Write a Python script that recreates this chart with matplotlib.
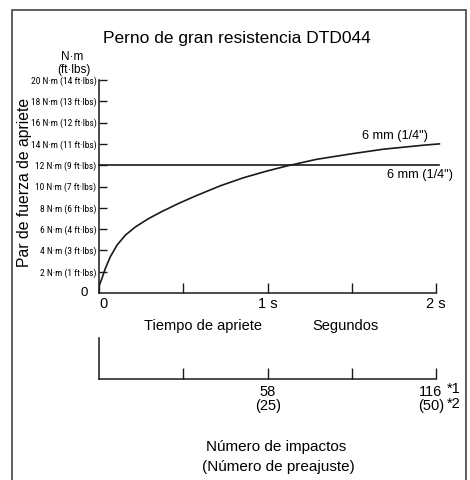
import matplotlib
matplotlib.use("Agg")
import matplotlib.pyplot as plt
from matplotlib.patches import Rectangle
from matplotlib.transforms import ScaledTranslation
import warnings
warnings.filterwarnings("ignore")

# ---- data ----
title = "Perno de gran resistencia DTD044"
time_s = [0.003, 0.012, 0.036, 0.065, 0.105, 0.154, 0.214, 0.292, 0.372, 0.47, 0.57, 0.716,
          0.856, 0.995, 1.12, 1.29, 1.49, 1.686, 1.94, 2.02]
torque_nm = [0.85, 1.21, 2.31, 3.39, 4.49, 5.42, 6.2, 6.98, 7.65, 8.4, 9.1, 10.05,
             10.82, 11.45, 11.95, 12.55, 13.05, 13.5, 13.9, 14.0]
ref_torque = 12
ref_t = [0, 2.02]
ytick_vals = [2, 4, 6, 8, 10, 12, 14, 16, 18, 20]
ytick_labels = ["2 N·m (1 ft·lbs)", "4 N·m (3 ft·lbs)", "6 N·m (4 ft·lbs)", "8 N·m (6 ft·lbs)",
                "10 N·m (7 ft·lbs)", "12 N·m (9 ft·lbs)", "14 N·m (11 ft·lbs)", "16 N·m (12 ft·lbs)",
                "18 N·m (13 ft·lbs)", "20 N·m (14 ft·lbs)"]
xtick_vals = [0, 1, 2]
xtick_labels = ["0", "1 s", "2 s"]
xminor_vals = [0.5, 1.5]
impact_ticks = [29, 58, 87, 116]
impact_labels = ["", "58\n(25)", "", "116\n(50)"]
curve_label = '6 mm (1/4")'
line_label = '6 mm (1/4")'

W, H = 470, 480
plt.rcParams['font.family'] = ['Liberation Sans', 'DejaVu Sans']
fig = plt.figure(figsize=(W / 100, H / 100), dpi=100)

def fx(px):
    return px / W

def fy(py):
    return 1 - py / H

dark = '#1a1a1a'
x0, x2 = 99.3, 436.0
ax = fig.add_axes([fx(x0), fy(293.0), fx(x2 - x0), (293.0 - 80.0) / H])
ax.set_xlim(0, 2)
ax.set_ylim(0, 20)
for s in ['top', 'right']:
    ax.spines[s].set_visible(False)
for s in ['left', 'bottom']:
    ax.spines[s].set_linewidth(1.1)
    ax.spines[s].set_color(dark)

ax.plot(time_s, torque_nm, color=dark, lw=1.2, clip_on=False, solid_joinstyle='round')
ax.plot(ref_t, [ref_torque, ref_torque], color=dark, lw=1.2, clip_on=False)

ax.set_xticks(xtick_vals)
ax.set_xticklabels(xtick_labels, fontsize=10.5)
ax.set_xticks(xminor_vals, minor=True)
ax.tick_params(axis='x', which='both', direction='in', length=7.5, width=1.0, color=dark, pad=3)
ax.get_xticklabels()[0].set_ha('left')

ax.set_yticks(ytick_vals)
ax.set_yticklabels(ytick_labels, fontsize=6.8, family=['Roboto Condensed', 'Liberation Sans'])
ax.tick_params(axis='y', direction='in', length=5.5, width=1.0, color=dark, pad=2)
ax.text(0, 0, "0", transform=ax.transData + ScaledTranslation(-0.11, 0, fig.dpi_scale_trans),
        ha='right', va='center', fontsize=9.5)

ax.text(2.0, 14.0, curve_label, transform=ax.transData + ScaledTranslation(-0.08, 0.02, fig.dpi_scale_trans),
        ha='right', va='bottom', fontsize=9.2)
ax.text(2.0, ref_torque, line_label, transform=ax.transData + ScaledTranslation(0.17, -0.04, fig.dpi_scale_trans),
        ha='right', va='top', fontsize=9.2)

fig.text(fx(237), fy(38), title, ha='center', va='center', fontsize=12.5)
fig.text(fx(72), fy(57), "N·m", ha='center', va='center', fontsize=8.5)
fig.text(fx(74), fy(70), "(ft·lbs)", ha='center', va='center', fontsize=8.5)
fig.text(fx(24.5), fy(182), "Par de fuerza de apriete", ha='center', va='center', rotation=90, fontsize=11.3)
fig.text(fx(203), fy(326), "Tiempo de apriete", ha='center', va='center', fontsize=10.5)
fig.text(fx(345), fy(326), "Segundos", ha='center', va='center', fontsize=10.5)

# impacts axis
ax2 = fig.add_axes([fx(x0), fy(379), fx(x2 - x0), (379 - 338) / H])
ax2.set_xlim(0, 116)
ax2.set_ylim(0, 1)
ax2.patch.set_alpha(0)
for s in ['top', 'right']:
    ax2.spines[s].set_visible(False)
for s in ['left', 'bottom']:
    ax2.spines[s].set_linewidth(1.1)
    ax2.spines[s].set_color(dark)
ax2.set_yticks([])
ax2.set_xticks(impact_ticks)
ax2.set_xticklabels(impact_labels, fontsize=10.5, linespacing=1.05)
ax2.tick_params(axis='x', direction='in', length=8, width=1.0, color=dark, pad=4)
lab = ax2.get_xticklabels()[3]
lab.set_transform(lab.get_transform() + ScaledTranslation(-0.05, 0, fig.dpi_scale_trans))
ax2.text(116, 0, "*1", transform=ax2.transData + ScaledTranslation(0.11, -0.03, fig.dpi_scale_trans),
         ha='left', va='top', fontsize=10.5)
ax2.text(116, 0, "*2", transform=ax2.transData + ScaledTranslation(0.11, -0.18, fig.dpi_scale_trans),
         ha='left', va='top', fontsize=10.5)

fig.text(fx(276), fy(447), "Número de impactos", ha='center', va='center', fontsize=11)
fig.text(fx(278), fy(467), "(Número de preajuste)", ha='center', va='center', fontsize=11)

fig.add_artist(Rectangle((fx(12.3), -0.05), fx(465.7 - 12.3), fy(10) + 0.05, transform=fig.transFigure,
                         fill=False, lw=1.1, ec='#333333'))

fig.savefig("out.png", dpi=100)
